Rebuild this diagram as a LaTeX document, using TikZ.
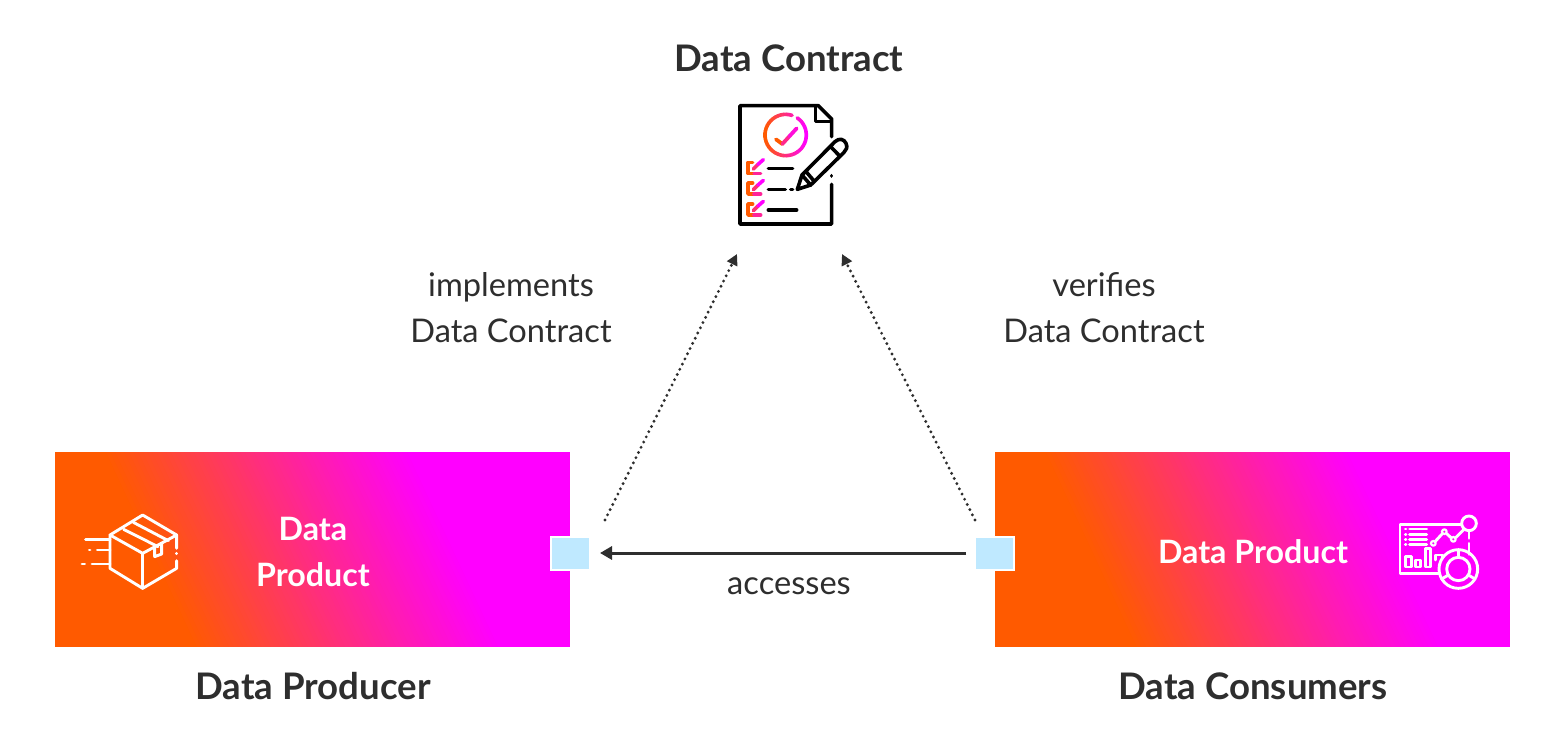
\documentclass[tikz,border=0pt]{standalone}
\usepackage{fontspec}
\setmainfont{Lato}
\usetikzlibrary{arrows.meta}
\definecolor{og}{HTML}{FF5A00}
\definecolor{mg}{HTML}{FF00FF}
\definecolor{ink}{HTML}{2E2E2E}
\definecolor{portblue}{HTML}{BFE9FF}
\tikzset{
  gradbox/.style={minimum width=257.25pt,minimum height=97.25pt,inner sep=0pt,outer sep=0pt,fill=og,
    path picture={
      \foreach \p in {0,...,66}{
        \pgfmathsetmacro{\m}{\p*100/66}
        \pgfmathsetmacro{\q}{-75+\p*2.1}
        % gradient axis (0.9063,0.4226), isolines along (-0.4226,0.9063)
        \pgfmathsetmacro{\ax}{\q*0.9063+220*0.4226}
        \pgfmathsetmacro{\ay}{\q*0.4226-220*0.9063}
        \pgfmathsetmacro{\bx}{\q*0.9063-220*0.4226}
        \pgfmathsetmacro{\by}{\q*0.4226+220*0.9063}
        \fill[color=mg!\m!og]
          ([shift={(\ax pt,\ay pt)}]path picture bounding box.center) --
          ([shift={(\bx pt,\by pt)}]path picture bounding box.center) --
          ([shift={(106pt,290pt)}]path picture bounding box.center) --
          ([shift={(290pt,-106pt)}]path picture bounding box.center) -- cycle;
      }}},
  portbox/.style={fill=portblue,draw=white,line width=1pt,minimum width=19.5pt,minimum height=16.5pt,inner sep=0pt,outer sep=0pt},
  heading/.style={font=\fontsize{18.3}{20}\selectfont\bfseries,text=ink,inner sep=0pt},
  boxlabel/.style={font=\fontsize{16.1}{23}\selectfont\bfseries,text=white,align=center,inner sep=0pt},
  edgelabel/.style={font=\fontsize{16.3}{23}\selectfont,text=ink,align=center,inner sep=0pt},
  dottedlink/.style={draw=ink,line width=1.6pt,line cap=round,dash pattern=on 0pt off 2.9pt,-{Triangle[length=5.5pt,width=5.5pt]}},
  solidlink/.style={draw=ink,line width=1.5pt,-{Triangle[length=6pt,width=6.5pt]}},
  blackicon/.style={draw=black,line width=1.8pt,line cap=round,line join=round},
  whiteicon/.style={draw=white,line width=1.45pt,line cap=round,line join=round},
  zoomscope/.style={x=0.16667pt,y=-0.16667pt}
}
\begin{document}
\begin{tikzpicture}[x=0.5pt,y=-0.5pt]
\useasboundingbox (0,0) rectangle (1560,745);
\fill[white] (0,0) rectangle (1560,745);

% boxes and ports
\node[gradbox] (boxL) at (312.25,549.25) {};
\node[gradbox] (boxR) at (1252.25,549.25) {};
\node[portbox] (portL) at (570.5,553) {};
\node[portbox] (portR) at (994.5,553) {};

% labels
\node[heading] (title) at (789,58) {Data Contract};
\node[heading] (producer) at (313,686) {Data Producer};
\node[heading] (consumers) at (1253,686) {Data Consumers};
\node[boxlabel] (dpL) at (313,552) {Data\\Product};
\node[boxlabel] (dpR) at (1253,552) {Data Product};
\node[edgelabel] (impl) at (511,308) {implements\\Data Contract};
\node[edgelabel] (veri) at (1104,308) {verifies\\Data Contract};
\node[edgelabel] (acc) at (789,586) {accesses};

% connectors
\coordinate (dotLstart) at (605,520);
\coordinate (dotLend) at (737,254);
\coordinate (dotRstart) at (975,520);
\coordinate (dotRend) at (842,254);
\draw[dottedlink] (dotLstart) -- (dotLend);
\draw[dottedlink] (dotRstart) -- (dotRend);
\draw[solidlink,shorten <=4.5pt,shorten >=5pt] (portR.west) -- (portL.east);

% contract icon
\begin{scope}[shift={(720,95)},zoomscope]
  \draw[blackicon] (335,125) -- (335,72) -- (295,32) -- (60,32) -- (60,387) -- (335,387) -- (335,268);
  \draw[blackicon] (335,242) -- (335,243);
  \draw[blackicon] (287,35) -- (287,80) -- (333,80);
  \draw[blackicon] (145,220) -- (218,220);
  \draw[blackicon] (145,283) -- (196,283);
  \draw[blackicon] (212,283) -- (218,283);
  \draw[blackicon] (145,345) -- (230,345);
  % pen
  \draw[blackicon] (232,283) -- (246,240) -- (345,140) .. controls (358,128) and (372,132) .. (378,145) .. controls (384,158) and (378,165) .. (372,172) -- (272,270) -- cycle;
  \draw[blackicon] (246,240) -- (272,270);
  \draw[blackicon] (260,232) -- (282,258);
  \draw[blackicon] (332,155) -- (358,182);
  % circle
  \foreach \a in {72,80,...,408}{
    \pgfmathsetmacro{\m}{50+50*cos(\a)}
    \draw[line width=1.8pt,color=mg!\m!og,line cap=round] ([shift={(197,120)}]-\a:62) -- ([shift={(197,120)}]-\a-8:62);
  }
  \draw[line width=1.9pt,color=og,line cap=round,line join=round] (168,133) -- (187,147);
  \draw[line width=1.9pt,color=mg!55!og,line cap=round] (187,147) -- (208,124);
  \draw[line width=1.9pt,color=mg!85!og,line cap=round] (208,124) -- (230,100);
  % check boxes
  \foreach \dy in {0,62,125}{
    \draw[line width=1.8pt,color=og,line cap=round,line join=round] (98,202+\dy) -- (84,202+\dy) -- (84,235+\dy) -- (102,235+\dy);
    \draw[line width=1.8pt,color=mg!60!og,line cap=round] (102,235+\dy) -- (122,235+\dy);
    \draw[line width=1.8pt,color=mg!45!og,line cap=round] (100,222+\dy) -- (114,208+\dy);
    \draw[line width=1.8pt,color=mg,line cap=round] (114,208+\dy) -- (130,194+\dy);
  }
\end{scope}

% parcel icon
\begin{scope}[shift={(70,505)},zoomscope]
  \draw[whiteicon] (320,130) -- (320,90) -- (218,30) -- (120,90) -- (120,190) -- (218,250) -- (320,190) -- (320,167);
  \draw[whiteicon] (320,145) -- (320,146);
  \draw[whiteicon] (120,90) -- (218,145) -- (320,90);
  \draw[whiteicon] (218,145) -- (218,250);
  \draw[whiteicon] (161,73) -- (264,125);
  \draw[whiteicon] (190,52) -- (295,107);
  \draw[whiteicon] (254,125) -- (254,155) -- (275,147) -- (275,115);
  \draw[whiteicon] (47,103) -- (120,103);
  \draw[whiteicon] (58,135) -- (60,135);
  \draw[whiteicon] (82,135) -- (120,135);
  \draw[whiteicon] (36,177) -- (44,177);
  \draw[whiteicon] (66,177) -- (120,177);
\end{scope}

% dashboard icon
\begin{scope}[shift={(1385,505)},zoomscope]
  \draw[whiteicon] (160,205) -- (45,205) -- (45,58) -- (228,58);
  \draw[whiteicon] (252,55) circle[radius=22];
  \draw[whiteicon] (252,78) -- (252,100);
  \draw[whiteicon] (252,115) -- (252,148);
  \draw[whiteicon] (220,192) circle[radius=58];
  \draw[whiteicon] (220,192) circle[radius=35];
  \draw[whiteicon] (220,134) -- (220,157);
  \draw[whiteicon] (170,222) -- (190,210);
  \draw[whiteicon] (270,222) -- (250,210);
  \foreach \yy in {72,88,103,118}{
    \draw[whiteicon] (61,\yy) -- (63,\yy);
    \draw[whiteicon] (74,\yy) -- (125,\yy);
  }
  \draw[whiteicon] (62,155) rectangle (80,186);
  \draw[whiteicon] (92,165) rectangle (107,186);
  \draw[whiteicon] (122,130) rectangle (137,186);
  \draw[whiteicon] (152,165) -- (152,150) -- (172,150) -- (172,160);
  \draw[whiteicon] (150,110) -- (172,86);
  \draw[whiteicon] (185,86) -- (198,98);
  \draw[whiteicon] (212,98) -- (238,72);
  \draw[whiteicon,line width=1.1pt] (145,115) circle[radius=7];
  \draw[whiteicon,line width=1.1pt] (178,80) circle[radius=7];
  \draw[whiteicon,line width=1.1pt] (205,103) circle[radius=7];
\end{scope}
\end{tikzpicture}
\end{document}
